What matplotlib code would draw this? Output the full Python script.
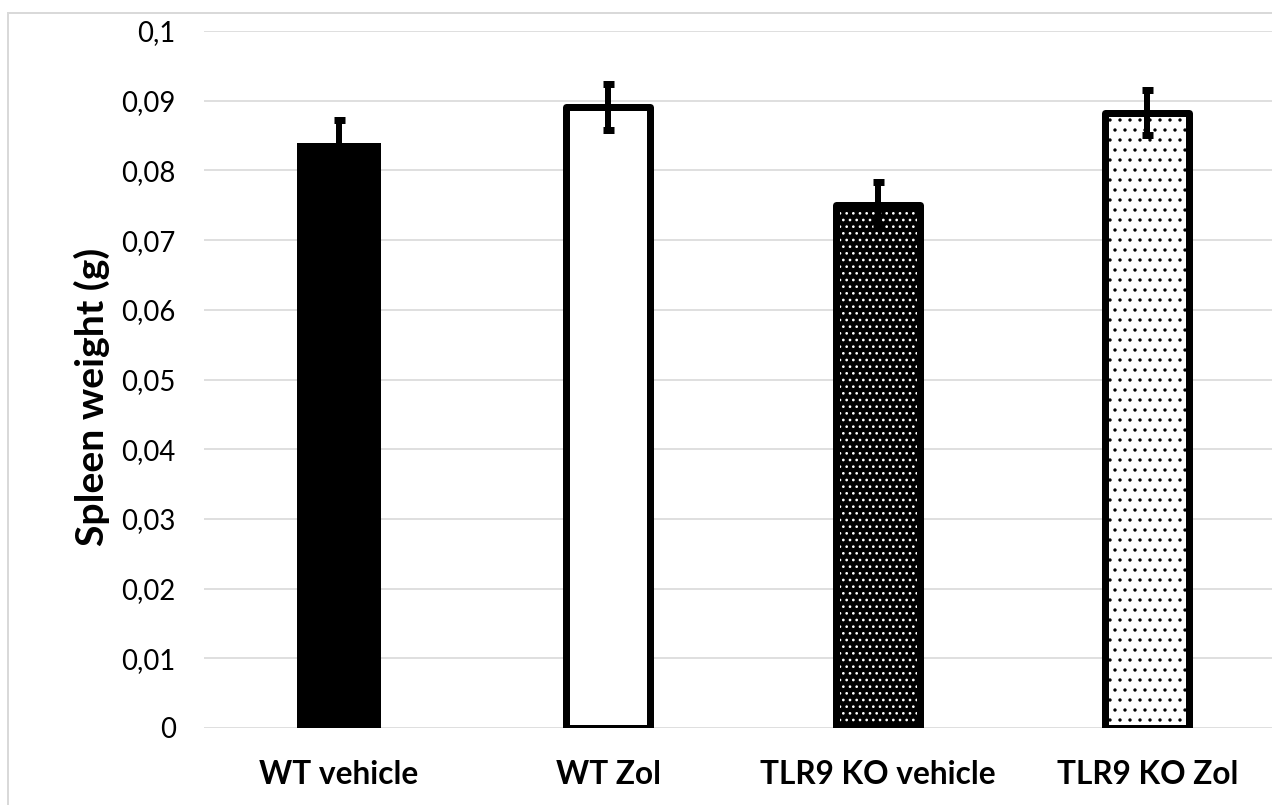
import matplotlib
matplotlib.use('Agg')
import matplotlib.pyplot as plt
from matplotlib.patches import Rectangle

groups = ['WT vehicle', 'WT Zol', 'TLR9 KO vehicle', 'TLR9 KO Zol']
weights = [0.0840, 0.0891, 0.0751, 0.0883]
errors = [0.0033, 0.0033, 0.0033, 0.0032]
y_ticks = [0, 0.01, 0.02, 0.03, 0.04, 0.05, 0.06, 0.07, 0.08, 0.09, 0.1]
y_tick_labels = ['0', '0,01', '0,02', '0,03', '0,04', '0,05', '0,06', '0,07', '0,08', '0,09', '0,1']

plt.rcParams['font.family'] = ['Lato', 'DejaVu Sans']
plt.rcParams['hatch.linewidth'] = 0.8

DPI = 120
fig = plt.figure(figsize=(1272 / DPI, 805 / DPI), dpi=DPI)
ax = fig.add_axes([204 / 1272, 77 / 805, 1068 / 1272, 697 / 805])

x = list(range(len(groups)))
w = 0.312
edge = 4.2

# WT vehicle: solid black
ax.bar(x[0], weights[0], width=w, color='black', linewidth=0, zorder=2)
# WT Zol: open bar
ax.bar(x[1], weights[1], width=w, facecolor='white', edgecolor='black',
       linewidth=edge, joinstyle='round', zorder=2)
# TLR9 KO vehicle: black with white dots
ax.bar(x[2], weights[2], width=w, facecolor='black', edgecolor='white',
       hatch='...', linewidth=0, zorder=2)
ax.bar(x[2], weights[2], width=w, fill=False, edgecolor='black',
       linewidth=edge, joinstyle='round', zorder=2)
# TLR9 KO Zol: white with black dots
ax.bar(x[3], weights[3], width=w, facecolor='white', edgecolor='black',
       hatch='..', linewidth=edge, joinstyle='round', zorder=2)

ax.errorbar(x, weights, yerr=errors, fmt='none', ecolor='black',
            elinewidth=3.6, capsize=3.3, capthick=4.2, zorder=3)

ax.set_ylim(0, 0.1)
ax.set_xlim(-0.5, 3.5 - 10 / 269.6)
ax.set_yticks(y_ticks)
ax.set_yticklabels(y_tick_labels, fontsize=16.5)
ax.set_xticks(x)
ax.set_xticklabels(groups, fontsize=19, fontweight='bold')
ax.tick_params(axis='y', length=0, pad=17)
ax.tick_params(axis='x', length=0, pad=19)
ax.set_ylabel('Spleen weight (g)', fontsize=23.5, fontweight='bold')
ax.yaxis.set_label_coords(-0.088, 0.475)

ax.yaxis.grid(True, color='#d9d9d9', linewidth=1.0)
ax.set_axisbelow(True)
for s in ax.spines.values():
    s.set_visible(False)

# outer chart frame, cut off at right and bottom
fig.patches.append(Rectangle((8 / 1272, -0.05), 1.1, (805 - 13) / 805 + 0.05,
                             transform=fig.transFigure, fill=False,
                             edgecolor='#d9d9d9', linewidth=1.2))

fig.savefig('out.png', dpi=DPI)
